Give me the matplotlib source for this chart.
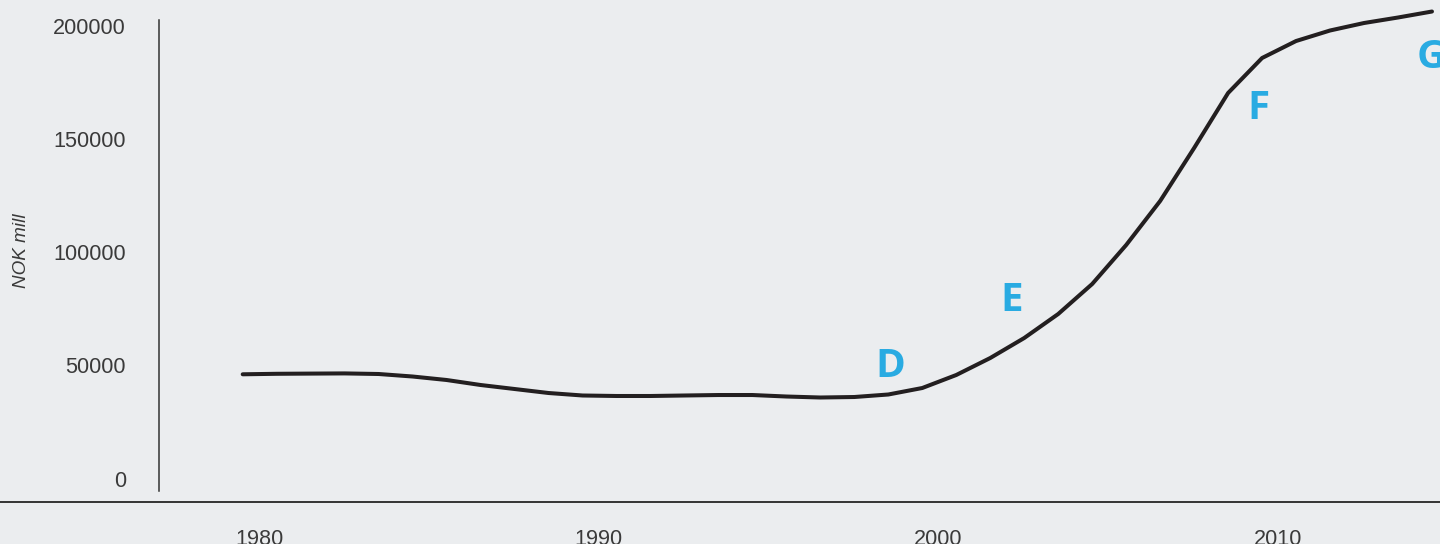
import matplotlib
matplotlib.use("Agg")
import matplotlib.pyplot as plt
from matplotlib.lines import Line2D

# ---- data ----
years = list(range(1980, 2016))
values = [46060, 46280, 46370, 46450, 46190, 45080, 43540, 41330, 39560, 37790,
          36690, 36470, 36470, 36690, 36900, 36900, 36240, 35800, 36020, 37130,
          40000, 45750, 53260, 62100, 72710, 85970, 103200, 122660, 146080, 170400,
          185860, 193370, 198020, 201330, 203760, 206410]

tick_years = [1980, 1990, 2000, 2010]
tick_labels = ["1980", "1990", "2000", "2010"]
y_ticks = [0, 50000, 100000, 150000, 200000]
y_tick_labels = ["0", "50000", "100000", "150000", "200000"]

phase_labels = ["D", "E", "F", "G"]
phase_x = [1999.05, 2002.63, 2009.90, 2014.55]
phase_y = [44860, 74035, 158760, 181660]
phase_ha = ["center", "center", "center", "left"]

ylabel = "NOK mill"

# ---- style ----
BG = "#ebedef"
TXT = "#3a3a3a"
BLUE = "#29abe2"
LINE = "#231f20"

W, H = 1440, 544
fig = plt.figure(figsize=(W / 100, H / 100), dpi=100, facecolor=BG)
ax = fig.add_axes([158.7 / W, (H - 491) / H, 1 - 158.7 / W, 491 / H])
ax.set_facecolor(BG)

ax.plot(years, values, color=LINE, lw=2.9, solid_capstyle="round", solid_joinstyle="round")

ax.set_xlim(1977.528, 2015.236)
ax.set_ylim(-5525, 211500)

for s in ["top", "right", "bottom"]:
    ax.spines[s].set_visible(False)
ax.spines["left"].set_color("#333333")
ax.spines["left"].set_linewidth(1.1)
ax.spines["left"].set_bounds(-5525, 202740)

ax.set_yticks(y_ticks)
ax.set_yticklabels(y_tick_labels)
ax.set_xticks([t + 0.48 for t in tick_years])
ax.set_xticklabels(tick_labels)
ax.tick_params(axis="y", length=0, pad=23.5, labelsize=15.6, labelcolor=TXT)
ax.tick_params(axis="x", length=0, pad=27.5, labelsize=15.6, labelcolor=TXT)
for lab in ax.get_xticklabels() + ax.get_yticklabels():
    lab.set_fontfamily("Liberation Sans")

for lab, x, y, ha in zip(phase_labels, phase_x, phase_y, phase_ha):
    ax.text(x, y, lab, color=BLUE, fontsize=29, fontweight="bold",
            family="Open Sans", ha=ha, va="baseline")

# horizontal base line across the whole figure
fig.add_artist(Line2D([0, 1], [1 - 502 / H, 1 - 502 / H], transform=fig.transFigure,
                      color="#333333", lw=1.4))

fig.text(22 / W, 1 - 251 / H, ylabel, rotation=90, ha="center", va="center",
         fontsize=13.6, style="italic", color=TXT, family="Liberation Sans")

fig.savefig("out.png", dpi=100, facecolor=BG)
